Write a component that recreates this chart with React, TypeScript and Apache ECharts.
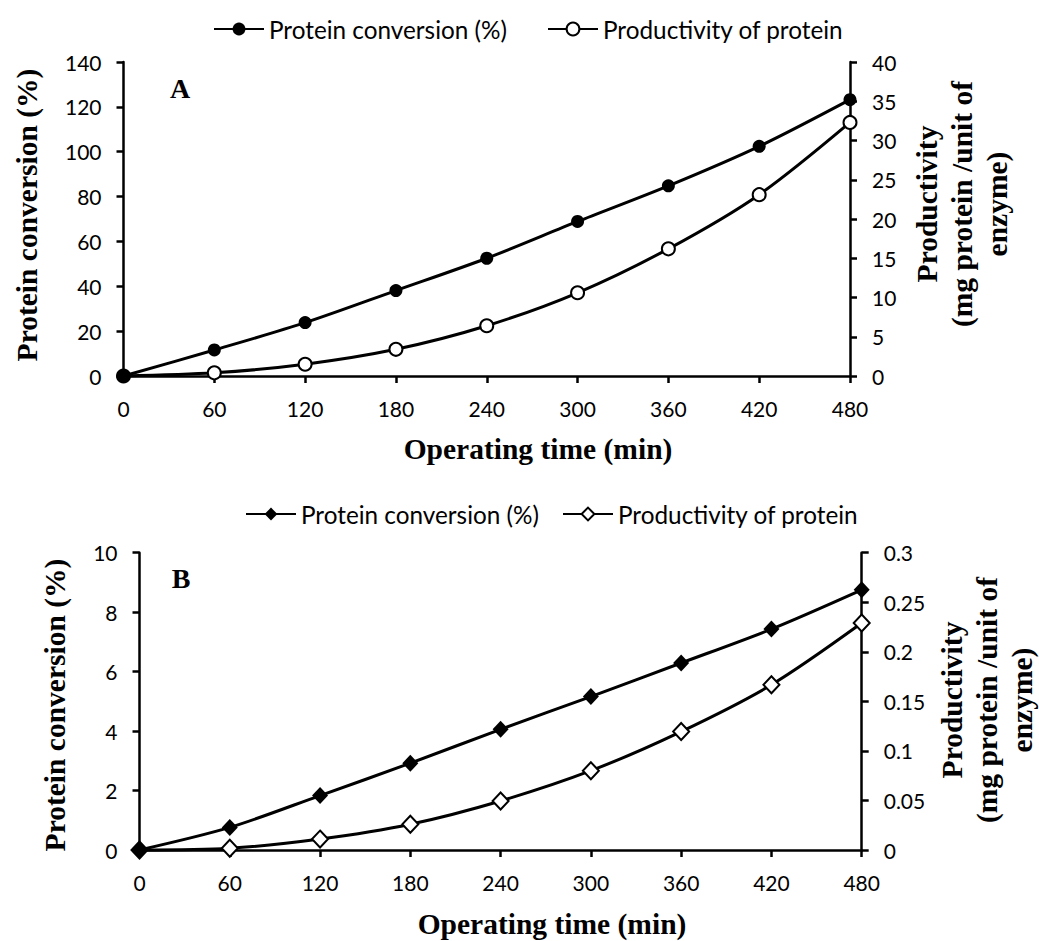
import React, { useEffect, useRef } from "react";
import * as echarts from "echarts";

// ---- data ----
const timeMin = [0, 60, 120, 180, 240, 300, 360, 420, 480];
const conversionA = [0, 11.6, 23.8, 38.1, 52.5, 68.9, 84.8, 102.4, 123.2];
const productivityA = [0, 0.4, 1.5, 3.4, 6.4, 10.6, 16.2, 23.1, 32.3];
const conversionB = [0, 0.76, 1.83, 2.92, 4.06, 5.16, 6.29, 7.43, 8.75];
const productivityB = [0, 0.0017, 0.011, 0.026, 0.0495, 0.08, 0.1195, 0.1667, 0.229];

const seriesNames = ["Protein conversion (%)", "Productivity of protein"];
const xTitle = "Operating time (min)";
const leftTitle = "Protein conversion (%)";
const rightTitle = "Productivity\n(mg protein /unit of\nenzyme)";

const LABEL_FONT = "Lato";
const TITLE_FONT = "Liberation Serif";

type Cfg = {
  panel: string;
  conv: number[];
  prod: number[];
  symbol: string;
  symbolSize: number | number[];
  grid: { left: number; top: number; width: number; height: number };
  leftMax: number;
  leftInt: number;
  rightMax: number;
  rightInt: number;
  legTop: number;
  leg1: number;
  leg2: number;
  panelPos: [number, number];
  leftTitlePos: [number, number];
  rightTitlePos: [number, number];
  xTitlePos: [number, number];
};

function makeOption(c: Cfg) {
  const axisLine = { show: true, onZero: false, lineStyle: { color: "#000", width: 2.5 } };
  const axisTick = { show: true, inside: false, length: 7, lineStyle: { color: "#000", width: 2.5 } };
  const axisLabel = { color: "#000", fontFamily: LABEL_FONT, fontSize: 21, margin: 22 };
  const legendText = { color: "#000", fontFamily: LABEL_FONT, fontSize: 24.3 };
  const titleStyle = {
    fill: "#000",
    font: "bold 29.5px 'Liberation Serif'",
    fontFamily: TITLE_FONT,
    fontWeight: "bold",
    fontSize: 29.5,
    align: "center",
    verticalAlign: "middle",
  };
  const pair = (arr: number[]) => timeMin.map((t, i) => [t, arr[i]]);
  return {
    animation: false,
    grid: { ...c.grid, containLabel: false },
    legend: [
      {
        data: [seriesNames[0]],
        left: c.leg1,
        top: c.legTop,
        itemWidth: 50,
        itemHeight: 16,
        padding: 0,
        textStyle: legendText,
        selectedMode: false,
      },
      {
        data: [seriesNames[1]],
        left: c.leg2,
        top: c.legTop,
        itemWidth: 50,
        itemHeight: 16,
        padding: 0,
        textStyle: legendText,
        selectedMode: false,
      },
    ],
    xAxis: {
      type: "value",
      min: 0,
      max: 480,
      interval: 60,
      axisLine,
      axisTick,
      axisLabel,
      splitLine: { show: false },
    },
    yAxis: [
      {
        type: "value",
        position: "left",
        min: 0,
        max: c.leftMax,
        interval: c.leftInt,
        axisLine,
        axisTick,
        axisLabel,
        splitLine: { show: false },
      },
      {
        type: "value",
        position: "right",
        min: 0,
        max: c.rightMax,
        interval: c.rightInt,
        axisLine,
        axisTick,
        axisLabel,
        splitLine: { show: false },
      },
    ],
    series: [
      {
        name: seriesNames[1],
        type: "line",
        yAxisIndex: 1,
        data: pair(c.prod),
        smooth: 0.3,
        clip: false,
        symbol: c.symbol,
        symbolSize: c.symbolSize,
        showSymbol: true,
        itemStyle: { color: "#fff", borderColor: "#000", borderWidth: 2 },
        lineStyle: { color: "#000", width: 3 },
        z: 2,
      },
      {
        name: seriesNames[0],
        type: "line",
        yAxisIndex: 0,
        data: pair(c.conv),
        smooth: 0.3,
        clip: false,
        symbol: c.symbol,
        symbolSize: c.symbolSize,
        showSymbol: true,
        itemStyle: { color: "#000", borderColor: "#000", borderWidth: 0 },
        lineStyle: { color: "#000", width: 3 },
        z: 3,
      },
    ],
    graphic: [
      {
        type: "text",
        x: c.panelPos[0],
        y: c.panelPos[1],
        style: { ...titleStyle, text: c.panel, font: "bold 28px 'Liberation Serif'", fontSize: 28 },
      },
      {
        type: "text",
        x: c.leftTitlePos[0],
        y: c.leftTitlePos[1],
        rotation: Math.PI / 2,
        style: { ...titleStyle, text: leftTitle },
      },
      {
        type: "text",
        x: c.rightTitlePos[0],
        y: c.rightTitlePos[1],
        rotation: Math.PI / 2,
        style: { ...titleStyle, text: rightTitle, lineHeight: 35 },
      },
      {
        type: "text",
        x: c.xTitlePos[0],
        y: c.xTitlePos[1],
        style: { ...titleStyle, text: xTitle },
      },
    ],
  };
}

const cfgA: Cfg = {
  panel: "A",
  conv: conversionA,
  prod: productivityA,
  symbol: "circle",
  symbolSize: 13,
  grid: { left: 123.5, top: 62, width: 726.5, height: 314 },
  leftMax: 140,
  leftInt: 20,
  rightMax: 40,
  rightInt: 5,
  legTop: 17,
  leg1: 213,
  leg2: 547,
  panelPos: [180, 88],
  leftTitlePos: [27, 215],
  rightTitlePos: [962, 204],
  xTitlePos: [538, 449],
};

const cfgB: Cfg = {
  panel: "B",
  conv: conversionB,
  prod: productivityB,
  symbol: "diamond",
  symbolSize: [16, 17],
  grid: { left: 139.5, top: 82.7, width: 722.2, height: 297.3 },
  leftMax: 10,
  leftInt: 2,
  rightMax: 0.3,
  rightInt: 0.05,
  legTop: 32,
  leg1: 245,
  leg2: 562,
  panelPos: [181, 108],
  leftTitlePos: [55, 235],
  rightTitlePos: [987, 230],
  xTitlePos: [552, 454],
};

function Panel({ cfg, top, height }: { cfg: Cfg; top: number; height: number }) {
  const ref = useRef<HTMLDivElement>(null);
  useEffect(() => {
    if (!ref.current) return;
    const chart = echarts.init(ref.current, undefined, { renderer: "svg" });
    chart.setOption(makeOption(cfg) as any);
    return () => chart.dispose();
  }, [cfg]);
  return (
    <div
      ref={ref}
      style={{ position: "absolute", left: 0, top, width: 1039, height }}
    />
  );
}

export default function App() {
  return (
    <div
      style={{
        position: "absolute",
        left: 0,
        top: 0,
        width: 1039,
        height: 941,
        background: "#fff",
        overflow: "hidden",
      }}
    >
      <Panel cfg={cfgA} top={0} height={470} />
      <Panel cfg={cfgB} top={470} height={471} />
    </div>
  );
}
